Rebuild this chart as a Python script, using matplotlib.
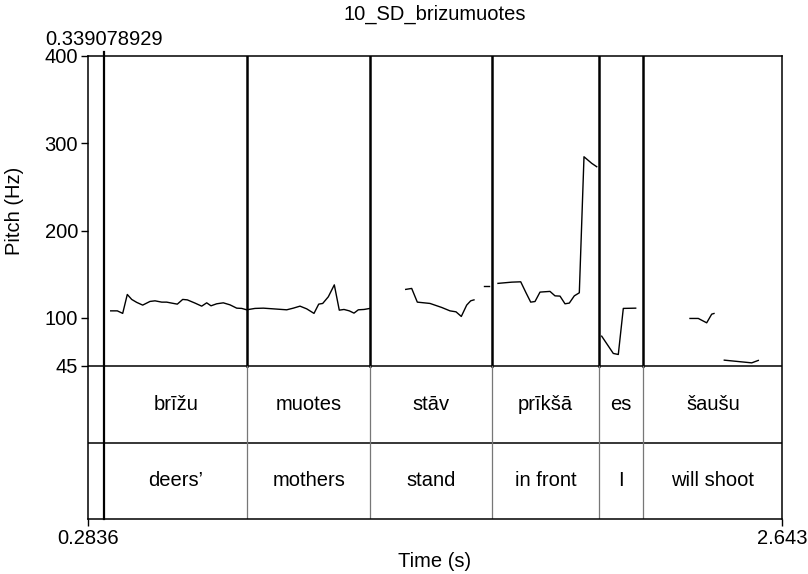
import numpy as np
import matplotlib
matplotlib.use('Agg')
from matplotlib import pyplot as plt

plt.rcParams['font.family'] = ['Liberation Sans', 'DejaVu Sans']

# pitch contour pieces (time s, F0 Hz)
seg1_t = [0.3621, 0.3845, 0.4028, 0.4184, 0.4334, 0.4504, 0.4707, 0.4955, 0.5125, 0.5353,
          0.5522, 0.5692, 0.5883, 0.6066, 0.6222, 0.6484, 0.6711, 0.6881, 0.7027, 0.7221,
          0.7445, 0.7672, 0.7900, 0.8070, 0.8239, 0.8521, 0.8803, 0.9143, 0.9598, 0.9822,
          1.0050, 1.0277, 1.0525, 1.0685, 1.0821, 1.1011, 1.1215, 1.1384, 1.1544, 1.1724,
          1.1884, 1.2030, 1.2223, 1.2427]
seg1_f = [107.9, 107.9, 105.0, 126.7, 121.0, 117.6, 114.5, 118.7, 119.4, 117.9,
          117.9, 116.8, 115.6, 121.0, 120.5, 116.8, 113.3, 117.1, 113.7, 116.0,
          117.1, 114.8, 111.0, 110.7, 109.1, 110.7, 111.0, 110.2, 109.1, 111.0,
          113.3, 110.2, 105.0, 115.6, 116.4, 124.0, 137.7, 108.7, 109.5, 107.9,
          105.3, 109.1, 109.5, 110.7]
seg2_t = [1.3640, 1.3843, 1.4034, 1.4465, 1.4862, 1.5144, 1.5348, 1.5528, 1.5711, 1.5847, 1.5959]
seg2_f = [132.5, 133.6, 117.9, 116.4, 111.8, 107.9, 106.8, 101.5, 114.5, 119.4, 120.5]
seg3_t = [1.6282, 1.6469]
seg3_f = [136.8, 136.8]
seg4_t = [1.6774, 1.7240, 1.7546, 1.7726, 1.7885, 1.8031, 1.8201, 1.8540, 1.8710, 1.8880,
          1.9050, 1.9196, 1.9366, 1.9536, 1.9695, 1.9957, 2.0127]
seg4_f = [139.4, 140.8, 141.2, 128.6, 117.9, 118.6, 129.4, 130.2, 125.1, 124.8,
          116.0, 116.8, 125.1, 128.6, 284.5, 277.0, 273.1]
seg5_t = [2.0296, 2.0690, 2.0860, 2.1030, 2.1451]
seg5_f = [78.9, 59.1, 57.9, 110.7, 111.0]
seg6_t = [2.3295, 2.3577, 2.3862, 2.4032, 2.4110]
seg6_f = [99.2, 99.2, 94.2, 104.1, 104.9]
seg7_t = [2.4460, 2.5391, 2.5615]
seg7_f = [51.4, 48.3, 51.1]

# text grid
t_start = 0.2836
t_end = 2.643
bounds = [0.339078929, 0.8265, 1.2423, 1.6581, 2.0195, 2.1710]
words = ['brīžu', 'muotes', 'stāv', 'prīkšā', 'es', 'šaušu']
gloss = ['deers’', 'mothers', 'stand', 'in front', 'I', 'will shoot']

f_min = 45
f_max = 400
y_bottom = -131
y_tier = -43

fs = 14.5

fig = plt.figure(figsize=(8.08, 5.74), dpi=100)
ax = fig.add_axes([87.6 / 808, 1 - 519.3 / 574, 694.7 / 808, 463.3 / 574])
ax.set_xlim(t_start, t_end)
ax.set_ylim(y_bottom, f_max)

for t, f in [(seg1_t, seg1_f), (seg2_t, seg2_f), (seg3_t, seg3_f), (seg4_t, seg4_f),
             (seg5_t, seg5_f), (seg6_t, seg6_f), (seg7_t, seg7_f)]:
    ax.plot(t, f, color='black', lw=1.0)

# tier frame
ax.axhline(f_min, color='black', lw=1.1)
ax.axhline(y_tier, color='black', lw=1.1)

# boundaries
for i, b in enumerate(bounds):
    if i == 0:
        ax.plot([b, b], [y_bottom, f_max + 5], color='black', lw=1.6, clip_on=False)
    else:
        ax.plot([b, b], [f_min, f_max], color='black', lw=1.8)
        ax.plot([b, b], [y_bottom, f_min], color='#777777', lw=0.9)

edges = bounds + [t_end]
for i in range(len(words)):
    mid = (edges[i] + edges[i + 1]) / 2
    ax.text(mid, (f_min + y_tier) / 2, words[i], ha='center', va='center', fontsize=fs)
    ax.text(mid, (y_tier + y_bottom) / 2, gloss[i], ha='center', va='center', fontsize=fs)

ax.text(bounds[0], f_max + 8, '0.339078929', ha='center', va='bottom', fontsize=fs)

for s in ax.spines.values():
    s.set_linewidth(1.1)

ax.set_yticks([45, 100, 200, 300, 400])
ax.set_yticklabels(['45', '100', '200', '300', '400'], fontsize=fs)
ax.set_xticks([t_start, t_end])
ax.set_xticklabels(['0.2836', '2.643'], fontsize=fs)
ax.tick_params(direction='out', length=5, width=1.0, pad=2)

fig.text(15 / 808, 1 - 210.8 / 574, 'Pitch (Hz)', rotation=90, ha='center', va='center', fontsize=fs)
fig.text(435 / 808, 1 - 561.7 / 574, 'Time (s)', ha='center', va='center', fontsize=fs)
fig.text(435 / 808, 1 - 14 / 574, '10_SD_brizumuotes', ha='center', va='center', fontsize=fs)

fig.savefig('out.png', dpi=100)
